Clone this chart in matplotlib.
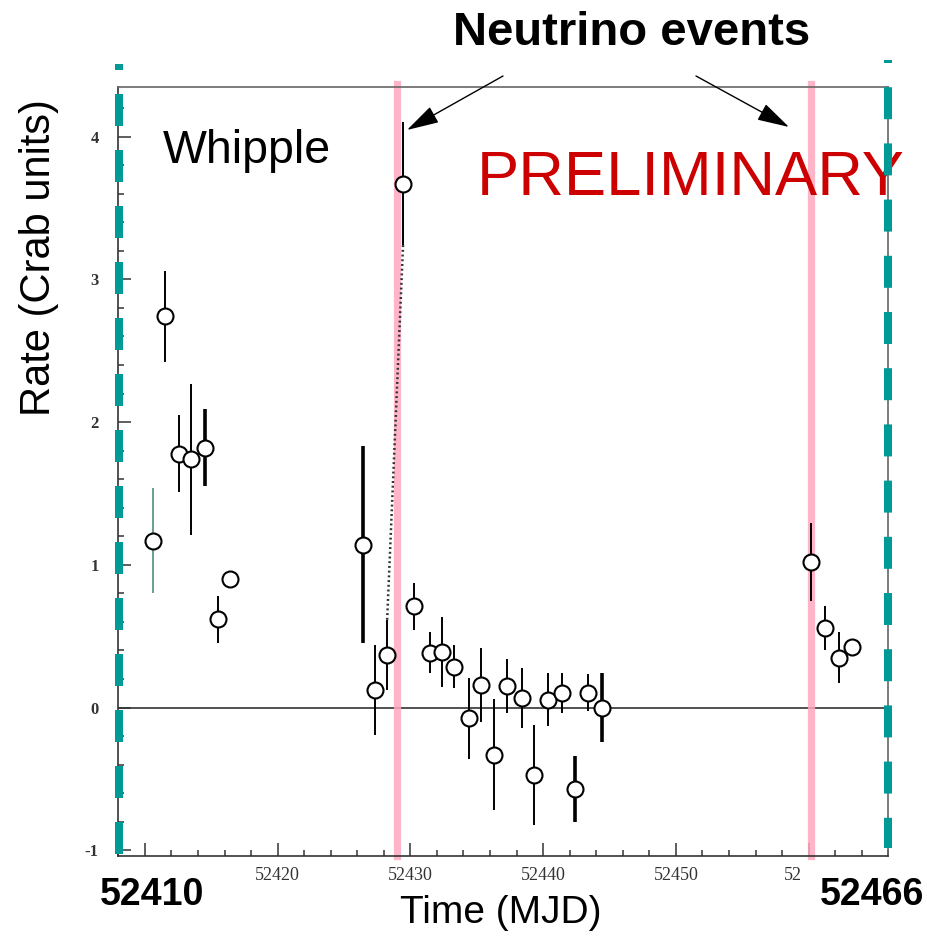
import matplotlib
matplotlib.use("Agg")
import matplotlib.pyplot as plt
from matplotlib.lines import Line2D
from matplotlib.patches import FancyArrowPatch
import numpy as np

plt.rcParams['lines.scale_dashes'] = False

# ---------------- data ----------------
mjd = [52410.6, 52411.5, 52412.55, 52413.5, 52414.5, 52415.5, 52416.45,
       52426.4, 52427.35, 52428.25, 52429.45, 52430.3, 52431.45, 52432.35,
       52433.3, 52434.45, 52435.35, 52436.3, 52437.3, 52438.4, 52439.3,
       52440.4, 52441.45, 52442.4, 52443.4, 52444.4,
       52460.2, 52461.2, 52462.25, 52463.3]
rate = [1.17, 2.74, 1.78, 1.74, 1.82, 0.62, 0.90,
        1.14, 0.12, 0.37, 3.67, 0.71, 0.385, 0.39,
        0.285, -0.075, 0.16, -0.33, 0.15, 0.065, -0.47,
        0.055, 0.105, -0.57, 0.105, 0.0,
        1.02, 0.555, 0.35, 0.425]
rate_err = [0.365, 0.32, 0.27, 0.53, 0.27, 0.165, 0.0,
            0.69, 0.315, 0.245, 0.43, 0.165, 0.145, 0.245,
            0.15, 0.285, 0.26, 0.39, 0.19, 0.21, 0.35,
            0.185, 0.14, 0.23, 0.13, 0.24,
            0.27, 0.155, 0.18, 0.0]
neutrino_mjd = [52429.0, 52460.2]
x_major = [52410, 52420, 52430, 52440, 52450, 52460]
x_major_labels = ['', '52420', '52430', '52440', '52450', '']
y_major = [-1, 0, 1, 2, 3, 4]
y_major_labels = ['-1', '0', '1', '2', '3', '4']
x_range = (52408, 52466)
y_range = (-1.04, 4.35)

W, H = 927, 943
SANS = 'Liberation Sans'
SERIF = 'Liberation Serif'

def fp(x, y):
    """pixel (top-left origin) -> figure fraction"""
    return (x / W, 1 - y / H)

fig = plt.figure(figsize=(W / 100, H / 100), dpi=100)
ax = fig.add_axes([118.3 / W, 1 - 856 / H, 770 / W, (856 - 86.7) / H])

ax.set_xlim(*x_range)
ax.set_ylim(*y_range)

# zero line
ax.axhline(0, color='#222222', lw=1.1, zorder=1)

# neutrino event lines
for xv in neutrino_mjd:
    ax.axvline(xv, ymin=0, ymax=1.004, color='#ffa8bf', alpha=0.85, lw=5.2,
               zorder=2, clip_on=False)

# dotted connector between flare point and previous point
ax.plot([mjd[10], mjd[9]], [rate[10] - rate_err[10], rate[9] + rate_err[9]],
        ls=(0, (1.4, 2.0)), color='#333333', lw=1.8, zorder=2.5)

# data with error bars
eb = ax.errorbar(mjd, rate, yerr=rate_err, fmt='o', ms=11.5, mfc='white',
                 mec='black', mew=1.5, ecolor='black', elinewidth=1.4,
                 capsize=0, zorder=3)
ecols = ['#6a9e8e' if i == 0 else 'black' for i in range(len(mjd))]
eb[2][0].set_color(ecols)
thick = [4, 7, 23, 25]
ax.errorbar([mjd[i] for i in thick], [rate[i] for i in thick],
            yerr=[rate_err[i] for i in thick], fmt='none', ecolor='black',
            elinewidth=2.6, capsize=0, zorder=2.9)

# ticks
ax.set_xticks(x_major)
ax.set_xticklabels(x_major_labels)
ax.set_xticks(np.arange(x_range[0], x_range[1] + 0.1, 2), minor=True)
ax.set_yticks(y_major)
ax.set_yticklabels(y_major_labels)
ax.set_yticks(np.arange(-1, 4.3, 0.2), minor=True)
ax.tick_params(axis='both', which='both', direction='in', color='#333333',
               width=1.1, top=False, right=False)
ax.tick_params(axis='both', which='major', length=9.5)
ax.tick_params(axis='both', which='minor', length=4.3)
ax.tick_params(axis='x', which='major', pad=8, labelsize=13, labelcolor='#333333')
ax.tick_params(axis='y', which='major', pad=14, labelsize=12, labelcolor='#333333')
for lbl in ax.get_xticklabels():
    lbl.set_family(SERIF)
for lbl in ax.get_yticklabels():
    lbl.set_family(SERIF)
    lbl.set_fontweight('bold')

# truncated tick label at 52460
ax.annotate('52', xy=(x_major[-1], 0), xycoords=('data', 'axes fraction'),
            xytext=(-25, -11), textcoords='offset pixels', ha='left', va='top',
            fontsize=13, family=SERIF, color='#333333')

for side in ['left', 'bottom']:
    ax.spines[side].set_color('#333333')
    ax.spines[side].set_linewidth(1.2)
for side in ['top', 'right']:
    ax.spines[side].set_color('#666666')
    ax.spines[side].set_linewidth(1.2)

# axis labels
fig.text(39 / W, 1 - 258 / H, 'Rate (Crab units)', rotation=90, ha='center',
         va='center', fontsize=30, family=SANS)
fig.text(501 / W, 1 - 923 / H, 'Time (MJD)', ha='center', va='baseline',
         fontsize=28, family=SANS)

# bold end labels
fig.text(*fp(152, 905), '52410', ha='center', va='baseline', fontsize=27,
         fontweight='bold', family=SANS)
fig.text(*fp(872, 905), '52466', ha='center', va='baseline', fontsize=27,
         fontweight='bold', family=SANS)

# annotations
fig.text(*fp(632, 45), 'Neutrino events', ha='center', va='baseline',
         fontsize=34, fontweight='bold', family=SANS)
fig.text(*fp(477, 195), 'PRELIMINARY', ha='left', va='baseline',
         fontsize=45.5, color='#cc0000', family=SANS)
fig.text(*fp(163, 163), 'Whipple', ha='left', va='baseline',
         fontsize=33.5, family=SANS)

for tail, head in [((503, 76), (407, 130)), ((696, 76), (789, 127))]:
    arr = FancyArrowPatch(fp(*tail), fp(*head), transform=fig.transFigure,
                          arrowstyle='-|>,head_length=1.0,head_width=0.28',
                          mutation_scale=20, lw=1.0,
                          color='black', shrinkA=0, shrinkB=0)
    fig.add_artist(arr)

# teal dashed boundary lines
px = 100 / 72.0
for xpix, ytop, ybot, first, period in [(119, 64, 854, 6, 56.0),
                                        (888.3, 60, 848, 3, 56.2)]:
    on = 32
    off = period - on
    ln = Line2D([xpix / W, xpix / W], [1 - ytop / H, 1 - ybot / H],
                transform=fig.transFigure, color='#009a96', lw=8 / px,
                solid_capstyle='butt', dash_capstyle='butt',
                linestyle=((on - first) / px, (on / px, off / px)), zorder=10)
    fig.add_artist(ln)

fig.savefig('out.png', dpi=100)
